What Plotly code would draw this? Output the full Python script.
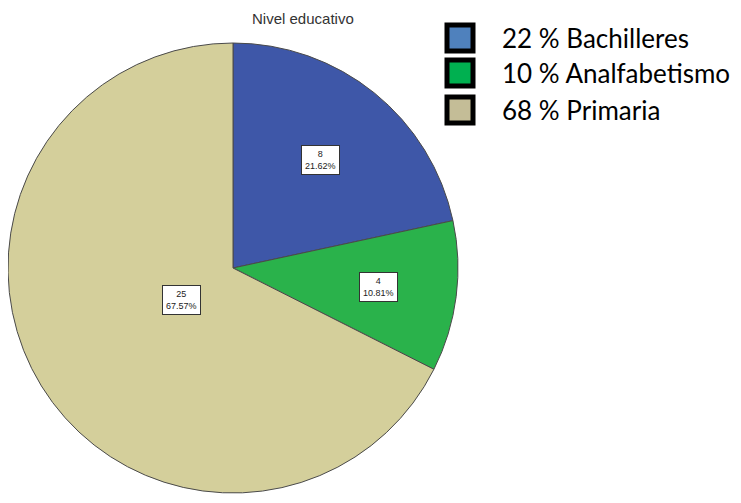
import math
import plotly.graph_objects as go

# ---- data ----
categories = ["Bachilleres", "Analfabetismo", "Primaria"]
counts = [8, 4, 25]
legend_labels = ["22 % Bachilleres", "10 % Analfabetismo", "68 % Primaria"]
title_text = "Nivel educativo"

# ---- styles ----
pie_colors = ["#3E57A8", "#2AB24B", "#D4CF9B"]
legend_colors = ["#4F81BD", "#00B050", "#C4BD97"]
OFF = 8                      # page body margin
W, H = 741 - OFF, 503 - OFF  # figure size
cx, cy, R = 233 - OFF, 268 - OFF, 225


def px_x(x):
    return x / W


def px_y(y):
    return 1 - y / H


dom_x = [max(0.0, (cx - R) / W), min(1.0, (cx + R) / W)]
dom_y = [max(0.0, (H - cy - R) / H), min(1.0, (H - cy + R) / H)]

fig = go.Figure(go.Pie(
    labels=categories,
    values=counts,
    sort=False,
    direction="clockwise",
    rotation=0,
    marker=dict(colors=pie_colors, line=dict(color="#4a4a4a", width=1)),
    textinfo="none",
    hoverinfo="label+value+percent",
    showlegend=False,
    domain=dict(x=dom_x, y=dom_y),
))

# in-slice value labels (white boxes) at each sector's centroid
total = sum(counts)
cum = 0
annotations = []
for v in counts:
    half = v / total * math.pi
    mid = (cum + v / 2) / total * 2 * math.pi
    cum += v
    r = (2 / 3) * R * math.sin(half) / half
    x = cx + r * math.sin(mid)
    y = cy - r * math.cos(mid)
    annotations.append(dict(
        x=px_x(x), y=px_y(y), xref="paper", yref="paper",
        xanchor="center", yanchor="middle",
        text=f"{v}<br>{v / total * 100:.2f}%",
        showarrow=False, font=dict(family="Arial", size=9, color="#222"),
        bgcolor="white", bordercolor="#333", borderwidth=1, borderpad=3,
    ))

# title
annotations.append(dict(
    x=px_x(303 - OFF), y=px_y(18 - OFF), xref="paper", yref="paper", text=title_text,
    xanchor="center", yanchor="middle",
    showarrow=False, font=dict(family="Arial", size=15, color="#333"),
))

# manual legend
shapes = []
row_y = [38, 73, 110]
for i, lab in enumerate(legend_labels):
    yc = row_y[i] - OFF
    shapes.append(dict(
        type="rect", xref="paper", yref="paper",
        x0=px_x(447 - OFF), x1=px_x(473 - OFF), y0=px_y(yc + 13), y1=px_y(yc - 13),
        fillcolor=legend_colors[i], line=dict(color="black", width=5),
    ))
    annotations.append(dict(
        x=px_x(500 - OFF), y=px_y(yc), xref="paper", yref="paper", text=lab,
        xanchor="left", yanchor="middle", showarrow=False,
        font=dict(family="Lato", size=26, color="black"),
    ))

fig.update_layout(
    width=W, height=H,
    margin=dict(l=0, r=0, t=0, b=0),
    paper_bgcolor="white", plot_bgcolor="white",
    annotations=annotations, shapes=shapes,
)

fig.write_html("out.html")
